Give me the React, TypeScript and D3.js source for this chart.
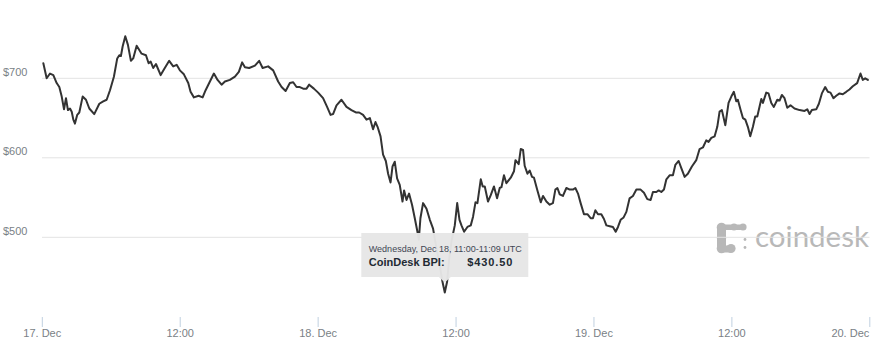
import React from 'react';
import * as d3 from 'd3';

// Hours since 17 Dec 00:00 UTC
const hours = [
  0.09,0.38,0.67,0.96,1.25,1.48,1.69,1.89,2.06,2.23,
  2.41,2.56,2.70,2.84,3.04,3.22,3.51,3.80,4.09,4.52,
  4.96,5.30,5.60,5.89,6.23,6.52,6.70,6.84,6.99,7.22,
  7.45,7.71,7.91,8.21,8.64,9.02,9.25,9.43,9.65,9.89,
  10.30,10.58,11.04,11.39,11.69,11.97,12.32,12.70,12.90,13.19,
  13.60,13.95,14.21,14.52,14.93,15.25,15.60,15.89,16.32,16.76,
  17.10,17.39,17.63,18.00,18.50,18.87,19.17,19.65,20.09,20.52,
  20.82,21.17,21.54,21.83,22.12,22.41,22.70,22.99,23.22,23.63,
  24.00,24.43,24.78,25.08,25.30,25.60,26.03,26.47,26.90,27.28,
  27.57,27.91,28.21,28.50,28.78,28.99,29.17,29.43,29.65,29.89,
  30.09,30.30,30.47,30.67,30.87,31.10,31.34,31.48,31.69,31.91,
  32.17,32.41,32.64,32.76,32.90,33.13,33.43,33.72,34.00,34.32,
  34.58,34.82,35.02,35.22,35.41,35.63,35.89,36.10,36.30,36.47,
  36.70,36.99,37.28,37.48,37.69,37.86,38.15,38.32,38.50,38.78,
  39.02,39.30,39.57,39.80,39.95,40.17,40.38,40.76,41.04,41.17,
  41.45,41.63,41.83,41.97,42.21,42.41,42.61,42.78,43.08,43.37,
  43.57,43.86,44.15,44.43,44.64,44.82,45.02,45.30,45.60,45.89,
  46.17,46.38,46.61,46.84,47.13,47.43,47.71,47.91,48.12,48.35,
  48.64,48.87,49.08,49.37,49.65,49.89,50.09,50.32,50.58,50.82,
  51.10,51.39,51.69,52.06,52.35,52.64,52.93,53.13,53.43,53.63,
  53.86,54.09,54.30,54.58,54.87,55.08,55.37,55.60,55.89,56.17,
  56.52,56.90,57.19,57.48,57.77,57.97,58.21,58.50,58.73,58.93,
  59.13,59.43,59.71,59.95,60.17,60.38,60.52,60.76,60.96,61.17,
  61.39,61.60,61.83,62.03,62.21,62.56,62.70,62.99,63.19,63.43,
  63.65,63.95,64.15,64.35,64.58,64.82,65.10,65.45,65.89,66.32,
  66.56,66.76,66.96,67.34,67.57,67.83,68.12,68.35,68.58,68.84,
  69.08,69.37,69.65,69.95,70.23,70.52,70.90,71.19,71.39,71.60,71.83,
];

// CoinDesk BPI (USD)
const prices = [
  719,700,706,704,694,689,677,661,675,660,
  662,658,648,643,654,657,677,673,662,655,
  668,671,673,685,702,725,729,728,740,753,
  742,722,725,741,731,729,719,721,713,718,
  704,711,722,715,717,710,705,694,683,676,
  678,676,685,694,706,698,692,696,698,702,
  708,720,714,713,716,722,713,715,710,696,
  689,684,694,695,689,689,687,687,692,687,
  682,675,664,654,655,666,673,664,660,657,
  657,654,648,650,636,645,639,627,604,596,
  580,569,589,595,574,566,545,559,547,555,
  541,524,507,497,524,543,536,522,511,484,
  465,444,430.5,444,474,497,515,543,522,515,
  507,513,515,526,544,543,573,564,564,545,
  553,564,549,562,563,578,568,575,583,597,
  592,611,610,590,580,584,576,575,559,544,
  552,545,541,543,560,562,554,552,562,560,
  560,562,555,543,529,529,524,524,534,529,
  529,523,515,514,513,507,513,522,525,532,
  549,552,560,560,556,548,547,557,557,559,
  557,560,573,578,578,591,596,587,576,580,
  589,597,611,613,622,620,625,627,639,658,
  660,641,669,677,683,671,673,660,650,648,
  639,627,639,652,652,674,669,682,681,669,
  664,673,672,679,675,663,666,662,660,659,
  661,655,660,661,668,681,689,683,682,675,
  678,681,680,683,686,690,694,706,698,700,698,
];

const tickHours = [0, 12, 24, 36, 48, 60, 72];
const tickLabels = ['17. Dec', '12:00', '18. Dec', '12:00', '19. Dec', '12:00', '20. Dec'];
const gridValues = [500, 600, 700];
const gridLabels = ['$500', '$600', '$700'];

const tooltipTitle = 'Wednesday, Dec 18, 11:00-11:09 UTC';
const tooltipSeries = 'CoinDesk BPI:';
const tooltipValue = '$430.50';
const hoveredPrice = 430.5;

const FONT = '"Liberation Sans", Arial, Helvetica, sans-serif';

export default function App() {
  const W = 878;
  const H = 351;
  const x = d3.scaleLinear().domain([0, 72]).range([42.3, 869.8]);
  const y = d3.scaleLinear().domain([400, 800]).range([316.8, -1.2]);

  const n = Math.min(hours.length, prices.length);
  const idx = d3.range(n);
  const line = d3
    .line<number>()
    .x((i) => x(hours[i]))
    .y((i) => y(prices[i]));
  const path = line(idx) || '';

  const hi = prices.indexOf(hoveredPrice);
  const px = x(hours[hi]);
  const py = y(prices[hi]);
  const tipW = 167;
  const tipH = 44;
  const tipBottom = py - 15.5;
  const tipTop = tipBottom - tipH;
  const tipLeft = px - tipW / 2;

  const logoColor = '#b8b8b8';

  return (
    <svg
      width={W}
      height={H}
      style={{ position: 'absolute', left: 0, top: 0, background: '#fff' }}
      fontFamily={FONT}
    >
      {/* coindesk logo */}
      <g fill={logoColor}>
        <circle cx={721.5} cy={227.5} r={4.8} />
        <rect x={721.5} y={224.5} width={21} height={5.5} rx={2.5} />
        <circle cx={734} cy={227} r={3.6} />
        <circle cx={743} cy={227} r={3.6} />
        <rect x={717} y={227} width={9} height={22} rx={3} />
        <circle cx={721.5} cy={238.5} r={4.6} />
        <circle cx={721.5} cy={248.5} r={4.8} />
        <circle cx={731} cy={248.5} r={4.6} />
        <rect x={721.5} y={245.5} width={9.5} height={7} />
        <circle cx={745} cy={239.5} r={1.4} />
        <circle cx={745} cy={247.5} r={1.4} />
        <text x={755} y={247} fontFamily='Lato, "Open Sans", sans-serif' fontSize={29.5} fill={logoColor}>
          coindesk
        </text>
      </g>

      {/* grid lines */}
      {gridValues.map((v) => (
        <line key={v} x1={42} x2={869.5} y1={y(v)} y2={y(v)} stroke="#e3e3e3" strokeWidth={1} />
      ))}
      {gridValues.map((v, i) => (
        <text key={'l' + v} x={3} y={y(v) - 2.5} fontSize={11} fill="#7a7f86">
          {gridLabels[i]}
        </text>
      ))}

      {/* series */}
      <path d={path} fill="none" stroke="#333333" strokeWidth={2} strokeLinejoin="round" strokeLinecap="round" />

      {/* x axis ticks */}
      {tickHours.map((h, i) => {
        const last = i === tickHours.length - 1;
        return (
          <g key={'t' + i}>
            <line x1={x(h)} x2={x(h)} y1={317} y2={327} stroke="#c0d0e0" strokeWidth={1} />
            <text
              x={last ? x(h) - 0.5 : x(h)}
              y={336.5}
              fontSize={11}
              fill="#7a7f86"
              textAnchor={last ? 'end' : 'middle'}
            >
              {tickLabels[i]}
            </text>
          </g>
        );
      })}

      {/* tooltip */}
      <g>
        <path
          d={`M${tipLeft},${tipTop} H${tipLeft + tipW} V${tipBottom} H${px + 6} L${px},${tipBottom + 5.5} L${px - 6},${tipBottom} H${tipLeft} Z`}
          fill="#e6e6e6"
          fillOpacity={0.97}
        />
        <text x={tipLeft + 7.5} y={tipTop + 18.5} fontSize={9} fill="#3f4654">
          {tooltipTitle}
        </text>
        <text x={tipLeft + 7.5} y={tipTop + 33} fontSize={11} fontWeight="bold" fill="#222a33">
          {tooltipSeries}
        </text>
        <text x={tipLeft + 106} y={tipTop + 33} fontSize={11} fontWeight="bold" fill="#222a33" letterSpacing={0.9}>
          {tooltipValue}
        </text>
      </g>
    </svg>
  );
}
